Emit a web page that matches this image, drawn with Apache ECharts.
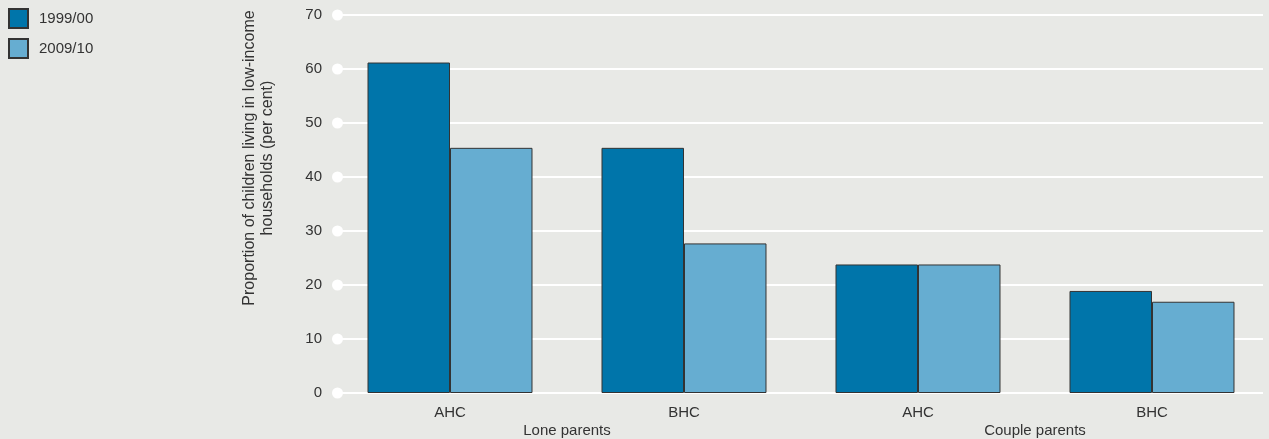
<!DOCTYPE html>
<html><head><meta charset="utf-8">
<script src="https://cdn.jsdelivr.net/npm/echarts@6/dist/echarts.min.js"></script>
<style>html,body{margin:0;padding:0;background:#e8e9e6;}#c{width:1269px;height:439px;}</style>
</head><body><div id="c"></div>
<script>
const categories = ['AHC', 'BHC', 'AHC', 'BHC'];
const groups = ['Lone parents', 'Couple parents'];
const seriesNames = ['1999/00', '2009/10'];
const values1999 = [61.2, 45.4, 23.8, 18.9];
const values2009 = [45.4, 27.7, 23.8, 16.9];
const yTicks = [0, 10, 20, 30, 40, 50, 60, 70];
const yTitle = 'Proportion of children living in low-income\nhouseholds (per cent)';

const font = '"Liberation Sans", Arial, Helvetica, sans-serif';
const txt = '#333333';
const chart = echarts.init(document.getElementById('c'), null, {renderer: 'canvas'});
chart.setOption({
  backgroundColor: '#e8e9e6',
  animation: false,
  textStyle: {fontFamily: font},
  legend: {
    orient: 'vertical', left: 8, top: 8, padding: 0, itemWidth: 19, itemHeight: 19, itemGap: 9,
    icon: 'rect',
    textStyle: {fontSize: 15, color: txt, fontFamily: font, padding: [0, 0, 0, 6]},
    data: seriesNames
  },
  grid: [
    {left: 333, right: -7, top: 15, bottom: 46},
    {left: 337, right: 6, top: 15, bottom: 46}
  ],
  xAxis: [
    {type: 'category', gridIndex: 0, data: categories,
     axisLine: {show: false}, axisTick: {show: false},
     axisLabel: {color: txt, fontSize: 15, margin: 12, fontFamily: font}},
    {type: 'category', gridIndex: 0, data: groups, position: 'bottom', offset: 18,
     axisLine: {show: false}, axisTick: {show: false},
     axisLabel: {color: txt, fontSize: 15, margin: 12, fontFamily: font}},
    {type: 'value', gridIndex: 1, show: false, min: 0, max: 1}
  ],
  yAxis: [
    {type: 'value', gridIndex: 0, min: yTicks[0], max: yTicks[yTicks.length-1], interval: 10, show: false},
    {type: 'value', gridIndex: 1, min: yTicks[0], max: yTicks[yTicks.length-1], interval: 10,
     axisLine: {show: false}, axisTick: {show: false},
     splitLine: {show: true, lineStyle: {color: '#ffffff', width: 2}},
     axisLabel: {
       margin: -6,
       formatter: v => '{v|' + v + '}{g|}{d|}',
       rich: {
         v: {color: txt, fontSize: 15, fontFamily: font},
         g: {width: 10},
         d: {width: 11, height: 11, borderRadius: 5.5, backgroundColor: '#ffffff'}
       }
     }}
  ],
  graphic: [{
    type: 'text',
    style: {text: yTitle, fill: txt, font: '16px ' + font, textAlign: 'center', lineHeight: 18},
    rotation: Math.PI / 2,
    x: 241, y: 158
  }],
  series: [
    {name: seriesNames[0], type: 'bar', xAxisIndex: 0, yAxisIndex: 0, data: values1999,
     barGap: '0%', barCategoryGap: '29.5%',
     itemStyle: {color: '#0075aa', borderColor: '#333333', borderWidth: 1}},
    {name: seriesNames[1], type: 'bar', xAxisIndex: 0, yAxisIndex: 0, data: values2009,
     barGap: '0%', barCategoryGap: '29.5%',
     itemStyle: {color: '#66add1', borderColor: '#333333', borderWidth: 1}}
  ]
});
</script></body></html>
